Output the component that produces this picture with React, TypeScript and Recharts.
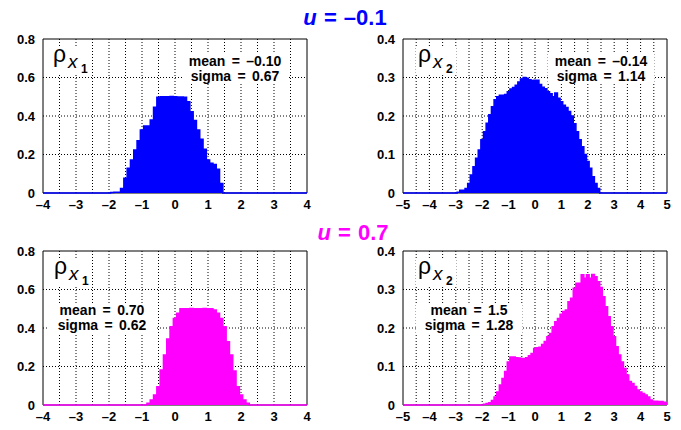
import { AreaChart, Area, XAxis, YAxis, CartesianGrid, ReferenceArea } from "recharts";

const binWidth = 0.1;

// axis ticks and grid positions
const x1Ticks = [-4, -3, -2, -1, 0, 1, 2, 3, 4];
const x1Grid = [-3.5, -3, -2.5, -2, -1.5, -1, -0.5, 0, 0.5, 1, 1.5, 2, 2.5, 3, 3.5];
const x2Ticks = [-5, -4, -3, -2, -1, 0, 1, 2, 3, 4, 5];
const x2Grid = [-4.5, -4, -3.5, -3, -2.5, -2, -1.5, -1, -0.5, 0, 0.5, 1, 1.5, 2, 2.5, 3, 3.5, 4, 4.5];
const y1Ticks = [0, 0.2, 0.4, 0.6, 0.8];
const y2Ticks = [0, 0.1, 0.2, 0.3, 0.4];

// u = -0.1, rho x1 (bin centres start at -1.9, step 0.1)
const topX1Start = -1.9;
const topX1 = [
  0.003, 0.004, 0.004, 0.024, 0.076, 0.128, 0.171, 0.223, 0.272, 0.327,
  0.348, 0.348, 0.379, 0.445, 0.497, 0.5, 0.5, 0.5, 0.501, 0.5,
  0.499, 0.499, 0.497, 0.474, 0.422, 0.376, 0.327, 0.279, 0.227, 0.171,
  0.154, 0.148, 0.123, 0.05,
];

// u = -0.1, rho x2 (start -2.9)
const topX2Start = -2.9;
const topX2 = [
  0.002, 0.007, 0.007, 0.012, 0.025, 0.047, 0.068, 0.09, 0.112, 0.138,
  0.159, 0.181, 0.203, 0.224, 0.242, 0.25, 0.254, 0.254, 0.256, 0.263,
  0.27, 0.274, 0.28, 0.288, 0.296, 0.3, 0.298, 0.294, 0.292, 0.293,
  0.293, 0.282, 0.275, 0.271, 0.263, 0.258, 0.25, 0.26, 0.246, 0.237,
  0.228, 0.222, 0.212, 0.2, 0.18, 0.159, 0.138, 0.12, 0.1, 0.082,
  0.064, 0.042, 0.025, 0.012,
];

// u = 0.7, rho x1 (start -0.8)
const botX1Start = -0.8;
const botX1 = [
  0.009, 0.026, 0.052, 0.095, 0.182, 0.26, 0.343, 0.407, 0.45, 0.476,
  0.5, 0.5, 0.5, 0.501, 0.5, 0.5, 0.5, 0.501, 0.5, 0.5,
  0.494, 0.476, 0.45, 0.407, 0.329, 0.26, 0.176, 0.095, 0.052, 0.026,
  0.009,
];

// u = 0.7, rho x2 (start -1.9)
const botX2Start = -1.9;
const botX2 = [
  0.002, 0.004, 0.006, 0.012, 0.021, 0.034, 0.052, 0.069, 0.087, 0.112,
  0.125, 0.125, 0.123, 0.122, 0.121, 0.121, 0.123, 0.128, 0.134, 0.147,
  0.149, 0.15, 0.157, 0.165, 0.177, 0.186, 0.203, 0.216, 0.225, 0.236,
  0.243, 0.247, 0.268, 0.277, 0.303, 0.316, 0.316, 0.338, 0.329, 0.338,
  0.329, 0.339, 0.333, 0.32, 0.305, 0.281, 0.255, 0.229, 0.203, 0.177,
  0.151, 0.13, 0.112, 0.095, 0.078, 0.061, 0.056, 0.048, 0.039, 0.034,
  0.03, 0.026, 0.021, 0.013, 0.01, 0.01, 0.009, 0.009, 0.007, 0.005,
];

const BLUE = "#0000ff";
const MAGENTA = "#ff00ff";
const FONT = "'Liberation Sans', Arial, Helvetica, sans-serif";

const r1 = (v: number) => Math.round(v * 10) / 10;

function buildSeries(lo: number, hi: number, start: number, values: number[]) {
  const pts = [{ x: lo, y: 0 }, { x: r1(start - binWidth), y: 0 }];
  values.forEach((v, i) => pts.push({ x: r1(start + i * binWidth), y: v }));
  const end = r1(start + values.length * binWidth);
  if (end <= hi) {
    pts.push({ x: end, y: 0 });
    pts.push({ x: hi, y: 0 });
  }
  return pts;
}

const fmt = (v: number) => (v < 0 ? "\u2013" + Math.abs(v) : String(v));

const tickStyle = { fontSize: 13, fontWeight: "bold", fill: "#000", fontFamily: FONT };

type PanelProps = {
  left: number;
  top: number;
  data: { x: number; y: number }[];
  xTicks: number[];
  xGrid: number[];
  yTicks: number[];
  color: string;
};

function Panel({ left, top, data, xTicks, xGrid, yTicks, color }: PanelProps) {
  const xMin = xTicks[0];
  const xMax = xTicks[xTicks.length - 1];
  const yMax = yTicks[yTicks.length - 1];
  return (
    <div style={{ position: "absolute", left, top }}>
      <AreaChart width={320} height={187} data={data} margin={{ top: 9, right: 13, bottom: 0, left: 5 }}>
        <CartesianGrid
          stroke="#000"
          strokeDasharray="1 2"
          verticalValues={xGrid}
          horizontalValues={yTicks.slice(1, -1)}
        />
        <XAxis
          dataKey="x"
          type="number"
          domain={[xMin, xMax]}
          ticks={xTicks}
          tickFormatter={fmt}
          tick={tickStyle}
          tickLine={false}
          axisLine={false}
          tickSize={0}
          tickMargin={7}
          height={24}
          interval={0}
        />
        <YAxis
          type="number"
          domain={[0, yMax]}
          ticks={yTicks}
          tick={tickStyle}
          tickLine={false}
          axisLine={false}
          tickSize={0}
          tickMargin={8}
          width={38}
          interval={0}
        />
        <ReferenceArea x1={xMin} x2={xMax} y1={0} y2={yMax} fill="none" stroke="#000" strokeWidth={1} />
        <Area
          type="step"
          dataKey="y"
          stroke={color}
          strokeWidth={1.5}
          fill={color}
          fillOpacity={1}
          dot={false}
          activeDot={false}
          isAnimationActive={false}
        />
      </AreaChart>
    </div>
  );
}

function Rho({ x, y, sub }: { x: number; y: number; sub: string }) {
  return (
    <g fill="#000" fontFamily={FONT}>
      <rect x={x - 2} y={y - 15} width={40} height={28} fill="#fff" />
      <text x={x} y={y} fontSize={23}>ρ</text>
      <text x={x + 15} y={y + 6} fontSize={19} fontStyle="italic">x</text>
      <text x={x + 28} y={y + 11} fontSize={12} fontWeight="bold">{sub}</text>
    </g>
  );
}

function Stats({ x, y, lines }: { x: number; y: number; lines: string[] }) {
  return (
    <g fill="#000" fontFamily={FONT} fontSize={14} fontWeight="bold" textAnchor="middle" style={{ wordSpacing: 2.5 }}>
      <rect x={x - 53} y={y - 12} width={106} height={30} fill="#fff" />
      <text x={x} y={y}>{lines[0]}</text>
      <text x={x} y={y + 15}>{lines[1]}</text>
    </g>
  );
}

export default function App() {
  return (
    <div style={{ position: "absolute", left: 0, top: 0, width: 681, height: 430, background: "#fff" }}>
      <Panel left={0} top={30} data={buildSeries(-4, 4, topX1Start, topX1)} xTicks={x1Ticks} xGrid={x1Grid} yTicks={y1Ticks} color={BLUE} />
      <Panel left={360} top={30} data={buildSeries(-5, 5, topX2Start, topX2)} xTicks={x2Ticks} xGrid={x2Grid} yTicks={y2Ticks} color={BLUE} />
      <Panel left={0} top={242} data={buildSeries(-4, 4, botX1Start, botX1)} xTicks={x1Ticks} xGrid={x1Grid} yTicks={y1Ticks} color={MAGENTA} />
      <Panel left={360} top={242} data={buildSeries(-5, 5, botX2Start, botX2)} xTicks={x2Ticks} xGrid={x2Grid} yTicks={y2Ticks} color={MAGENTA} />

      <svg width={681} height={430} style={{ position: "absolute", left: 0, top: 0, pointerEvents: "none" }}>
        <text x={345} y={25} fill={BLUE} fontFamily={FONT} fontSize={22} fontWeight="bold" textAnchor="middle" style={{ wordSpacing: 1 }}>
          <tspan fontStyle="italic">u</tspan> = {"\u2013"}0.1
        </text>
        <text x={353} y={240} fill={MAGENTA} fontFamily={FONT} fontSize={22} fontWeight="bold" textAnchor="middle" style={{ wordSpacing: 1 }}>
          <tspan fontStyle="italic">u</tspan> = 0.7
        </text>

        <Rho x={53} y={62} sub="1" />
        <Rho x={418} y={62} sub="2" />
        <Rho x={54} y={274} sub="1" />
        <Rho x={418} y={274} sub="2" />

        <Stats x={235} y={66} lines={["mean = \u20130.10", "sigma = 0.67"]} />
        <Stats x={601} y={66} lines={["mean = \u20130.14", "sigma = 1.14"]} />
        <Stats x={102} y={315} lines={["mean = 0.70", "sigma = 0.62"]} />
        <Stats x={469} y={315} lines={["mean = 1.5", "sigma = 1.28"]} />
      </svg>
    </div>
  );
}
